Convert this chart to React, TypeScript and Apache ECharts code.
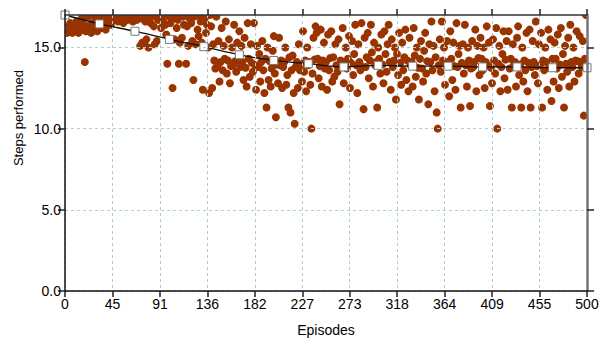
import { useEffect, useRef } from "react";
import * as echarts from "echarts";

// Tick labels along the episode axis (evenly spaced over 0..500)
const EPISODE_TICK_LABELS = ["0", "45", "91", "136", "182", "227", "273", "318", "364", "409", "455", "500"];
const EPISODE_MAX = 500;
const STEPS_MAX = 17;
const STEPS_TICKS = [0, 5, 10, 15];

// Steps performed in each episode (episode = index)
const STEPS: number[] = [
  17.0, 16.2, 15.9, 16.3, 16.0, 16.5, 16.1, 15.9, 16.4, 16.2,
  16.0, 16.6, 16.3, 15.9, 16.2, 16.5, 16.8, 16.1, 16.4, 14.1,
  16.0, 16.3, 16.9, 17.0, 16.2, 15.9, 16.5, 17.0, 16.1, 16.4,
  16.7, 16.0, 17.0, 16.3, 16.8, 16.2, 17.0, 16.5, 16.9, 16.1,
  17.0, 16.6, 16.8, 17.0, 16.4, 17.0, 16.9, 16.7, 17.0, 16.8,
  17.0, 16.6, 17.0, 16.9, 17.0, 16.8, 16.5, 17.0, 16.9, 17.0,
  16.7, 17.0, 16.8, 17.0, 16.9, 16.6, 17.0, 16.8, 17.0, 16.7,
  17.0, 16.9, 15.1, 16.8, 15.3, 17.0, 15.2, 16.6, 15.5, 17.0,
  15.0, 17.0, 16.5, 16.9, 17.0, 16.3, 15.2, 17.0, 15.4, 16.7,
  17.0, 16.8, 16.2, 17.0, 16.6, 17.0, 16.4, 15.8, 14.0, 17.0,
  16.9, 16.5, 17.0, 12.5, 16.8, 15.5, 17.0, 16.2, 16.7, 14.0,
  15.3, 17.0, 15.6, 16.9, 16.4, 17.0, 14.0, 16.3, 15.1, 16.8,
  17.0, 16.5, 15.4, 13.0, 16.9, 15.2, 17.0, 16.1, 15.7, 17.0,
  16.6, 15.3, 12.4, 17.0, 16.8, 15.9, 16.4, 15.0, 12.2, 17.0,
  16.3, 12.5, 15.2, 14.2, 13.7, 16.9, 13.9, 15.4, 12.9, 14.1,
  16.2, 13.6, 15.1, 14.3, 16.6, 13.4, 14.2, 15.5, 12.8, 13.85,
  15.0, 13.9, 16.4, 14.15, 13.5, 15.3, 14.2, 16.0, 13.8, 15.1,
  14.1, 13.0, 15.6, 13.75, 12.6, 16.5, 14.3, 13.2, 15.2, 14.05,
  13.5, 16.5, 13.9, 12.4, 15.1, 13.8, 14.6, 12.9, 14.1, 15.4,
  13.6, 12.2, 14.3, 11.3, 15.0, 13.0, 14.15, 12.6, 13.7, 14.8,
  15.7, 13.4, 10.7, 13.95, 12.8, 15.6, 13.9, 14.2, 12.5, 13.8,
  14.1, 15.0, 12.7, 13.3, 11.3, 14.4, 11.0, 13.6, 14.5, 12.2,
  10.3, 13.8, 14.1, 12.5, 15.2, 13.6, 13.95, 12.9, 16.0, 13.5,
  14.2, 12.3, 15.0, 13.9, 14.1, 12.7, 10.0, 13.4, 15.6, 14.25,
  16.3, 15.9, 14.3, 13.1, 13.85, 16.1, 12.6, 14.2, 15.3, 13.7,
  14.1, 12.4, 15.8, 13.6, 14.35, 16.0, 12.9, 14.4, 13.2, 15.2,
  13.9, 13.5, 15.5, 11.5, 14.2, 13.9, 16.2, 12.8, 14.1, 15.0,
  13.7, 14.3, 15.7, 12.5, 14.05, 15.4, 13.3, 14.6, 16.4, 13.9,
  12.2, 15.2, 14.1, 13.6, 16.5, 13.8, 11.2, 15.6, 13.8, 14.4,
  15.9, 13.1, 14.2, 16.4, 14.7, 12.6, 15.3, 13.9, 14.1, 11.3,
  15.0, 14.3, 13.4, 15.8, 13.95, 12.8, 16.0, 14.6, 13.5, 15.2,
  16.4, 14.1, 12.4, 15.5, 13.8, 14.2, 15.0, 11.8, 14.6, 13.3,
  15.9, 14.05, 12.7, 15.3, 13.6, 14.4, 16.1, 13.0, 14.2, 12.3,
  15.6, 13.9, 14.1, 12.6, 16.2, 14.5, 13.2, 15.0, 13.75, 11.8,
  14.3, 15.4, 13.7, 12.9, 14.8, 15.9, 13.4, 14.15, 11.5, 15.2,
  14.1, 16.6, 13.6, 15.1, 12.3, 14.4, 11.0, 10.0, 13.9, 15.5,
  13.5, 16.6, 14.2, 15.0, 12.7, 13.9, 15.4, 14.1, 12.0, 16.0,
  14.3, 13.0, 15.3, 13.85, 12.4, 16.5, 13.8, 14.6, 15.1, 11.3,
  14.05, 15.2, 13.4, 16.4, 13.9, 12.6, 15.0, 14.2, 11.4, 13.7,
  15.4, 13.8, 14.1, 16.1, 12.3, 15.1, 14.35, 13.3, 15.6, 14.3,
  13.6, 15.0, 12.5, 14.1, 16.3, 13.9, 15.3, 11.4, 13.75, 12.8,
  15.5, 14.2, 13.4, 16.2, 10.0, 14.0, 15.1, 12.3, 13.8, 14.6,
  16.0, 13.1, 14.25, 15.4, 12.4, 16.0, 13.7, 14.3, 11.3, 15.2,
  13.9, 14.1, 12.6, 15.6, 16.3, 13.3, 13.95, 11.3, 15.0, 12.9,
  14.2, 13.6, 15.9, 12.3, 14.05, 16.1, 11.3, 13.8, 15.4, 14.1,
  13.3, 16.6, 13.85, 12.8, 15.2, 13.9, 15.9, 11.3, 14.2, 13.6,
  15.0, 14.1, 12.4, 16.1, 13.8, 15.5, 11.7, 14.3, 12.9, 15.3,
  14.3, 13.7, 15.8, 12.5, 13.95, 16.2, 13.2, 14.6, 11.3, 15.1,
  14.0, 13.5, 15.6, 12.6, 16.4, 14.1, 13.8, 15.0, 12.9, 14.2,
  16.0, 14.15, 13.4, 15.7, 14.1, 13.8, 15.4, 10.8, 14.3, 17.0,
];

// Smoothed trend of steps performed
const TREND_EPISODES = [0, 33, 67, 100, 133, 167, 200, 233, 267, 300, 333, 367, 400, 433, 467, 500];
const TREND_STEPS = [17.0, 16.45, 16.0, 15.5, 15.05, 14.55, 14.2, 14.0, 13.8, 13.9, 13.85, 13.85, 13.8, 13.8, 13.75, 13.75];

const FONT = "'Liberation Sans', Arial, Helvetica, sans-serif";
const DOT_COLOR = "#993300";
const GRID_COLOR = "#a9d0d0";
const TEXT_COLOR = "#000";

export default function App() {
  const ref = useRef<HTMLDivElement>(null);

  useEffect(() => {
    document.body.style.margin = "0";
    if (!ref.current) return;
    const chart = echarts.init(ref.current, undefined, { renderer: "svg" });

    const tickPositions = EPISODE_TICK_LABELS.map((_, i) => (i * EPISODE_MAX) / (EPISODE_TICK_LABELS.length - 1));
    const labelFor = (v: number) => {
      const i = tickPositions.findIndex((p) => Math.abs(p - v) < 1e-6);
      return i >= 0 ? EPISODE_TICK_LABELS[i] : "";
    };

    const xBase = {
      type: "value" as const,
      min: 0,
      max: EPISODE_MAX,
      axisTick: { show: true, inside: false, length: 6, customValues: tickPositions, lineStyle: { color: "#222", width: 1.5 } },
    };

    chart.setOption({
      animation: false,
      backgroundColor: "#ffffff",
      grid: { left: 65, right: 15, top: 15, bottom: 54, containLabel: false },
      xAxis: [
        {
          ...xBase,
          position: "bottom",
          name: "Episodes",
          nameLocation: "middle",
          nameGap: 32,
          nameTextStyle: { fontFamily: FONT, fontSize: 14, color: TEXT_COLOR },
          axisLine: { show: true, onZero: false, lineStyle: { color: "#111", width: 1.5 } },
          axisLabel: {
            customValues: tickPositions,
            formatter: (v: number) => labelFor(v),
            fontFamily: FONT,
            fontSize: 14,
            color: TEXT_COLOR,
            margin: 6,
          },
          splitLine: { show: true, lineStyle: { color: GRID_COLOR, type: [3, 3], width: 1 } },
          z: 5,
        },
        {
          ...xBase,
          position: "top",
          axisLine: { show: true, onZero: false, lineStyle: { color: "#333", width: 1.5 } },
          axisLabel: { show: false },
          splitLine: { show: false },
          z: 5,
        },
      ],
      yAxis: [
        {
          type: "value",
          position: "left",
          min: 0,
          max: STEPS_MAX,
          interval: 5,
          axisLine: { show: true, onZero: false, lineStyle: { color: "#111", width: 1.5 } },
          axisTick: { show: true, length: 7, customValues: STEPS_TICKS, lineStyle: { color: "#222", width: 1.5 } },
          axisLabel: {
            customValues: STEPS_TICKS,
            formatter: (v: number) => v.toFixed(1),
            fontFamily: FONT,
            fontSize: 14,
            color: TEXT_COLOR,
            margin: 4,
          },
          splitLine: { show: true, lineStyle: { color: GRID_COLOR, type: [3, 3], width: 1 } },
          z: 5,
        },
        {
          type: "value",
          position: "right",
          min: 0,
          max: STEPS_MAX,
          interval: 5,
          axisLine: { show: true, onZero: false, lineStyle: { color: "#777", width: 2.5 } },
          axisTick: { show: true, length: 7, customValues: STEPS_TICKS, lineStyle: { color: "#222", width: 1.5 } },
          axisLabel: { show: false },
          splitLine: { show: false },
          z: 5,
        },
      ],
      graphic: [
        {
          type: "text",
          x: 18,
          y: 118,
          rotation: Math.PI / 2,
          style: {
            text: "Steps performed",
            fontFamily: FONT,
            fontSize: 13,
            fill: TEXT_COLOR,
            align: "center",
            verticalAlign: "middle",
          },
        },
      ],
      series: [
        {
          type: "custom",
          clip: true,
          xAxisIndex: 0,
          yAxisIndex: 0,
          data: STEPS.map((v, i) => [i, v]),
          encode: { x: 0, y: 1 },
          renderItem: (_params: any, api: any) => {
            const p = api.coord([api.value(0), api.value(1)]);
            return {
              type: "circle",
              shape: { cx: p[0], cy: p[1], r: 4 },
              style: { fill: DOT_COLOR },
            };
          },
          z: 2,
        },
        {
          type: "line",
          xAxisIndex: 0,
          yAxisIndex: 0,
          data: TREND_EPISODES.map((e, i) => [e, TREND_STEPS[i]]),
          smooth: 0.3,
          symbol: "rect",
          symbolSize: 8,
          showSymbol: true,
          lineStyle: { color: "#111", width: 1.3 },
          itemStyle: { color: "#ffffff", borderColor: "#777", borderWidth: 1 },
          z: 3,
        },
      ],
    });

    return () => chart.dispose();
  }, []);

  return <div ref={ref} style={{ width: 602, height: 345 }} />;
}
